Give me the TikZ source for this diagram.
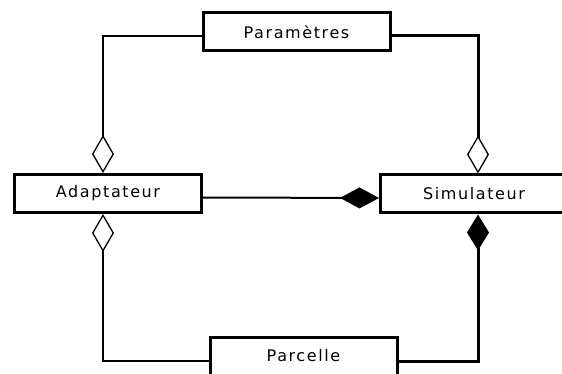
\documentclass[tikz,border=0pt]{standalone}
\usepackage{fontspec}
\newfontfamily\umlfont[LetterSpace=10]{DejaVu Sans}
\usetikzlibrary{arrows.meta}

\begin{document}
\begin{tikzpicture}[x=1pt,y=-1pt,font=\umlfont\fontsize{16}{19}\selectfont]
\tikzset{
  box/.style ={draw,line width=3pt,inner sep=0pt,minimum width=187pt,minimum height=38pt},
  link/.style={line width=2pt},
  heavy/.style={line width=3pt},
  agg/.style ={-{Diamond[open,length=38pt,width=22pt,line width=1.3pt]}},
  comp/.style={-{Diamond[length=36pt,width=22pt]}}
}
\useasboundingbox (0,0) rectangle (562,374);

\node[box] (params) at (296.5,32) {Paramètres};
\node[box] (adapt) at (108,193.5) {Adaptateur};
\node[box] (simul) at (474,194) {Simulateur};
\node[box] (parcelle) at (303.5,356) {Parcelle};

\draw[link,agg] ([yshift=-4pt]params.west) -| ([xshift=-5pt]adapt.north);
\draw[heavy,agg] ([yshift=-4pt]params.east) -| ([xshift=4pt]simul.north);
\draw[link,-{Diamond[length=39pt,width=21pt]}] ([yshift=-4pt]adapt.east) -- ([yshift=-4pt]simul.west);
\draw[link,agg] ([yshift=-5pt]parcelle.west) -| ([xshift=-5pt]adapt.south);
\draw[heavy,comp] ([yshift=-5pt]parcelle.east) -| ([xshift=4pt]simul.south);
\end{tikzpicture}
\end{document}
